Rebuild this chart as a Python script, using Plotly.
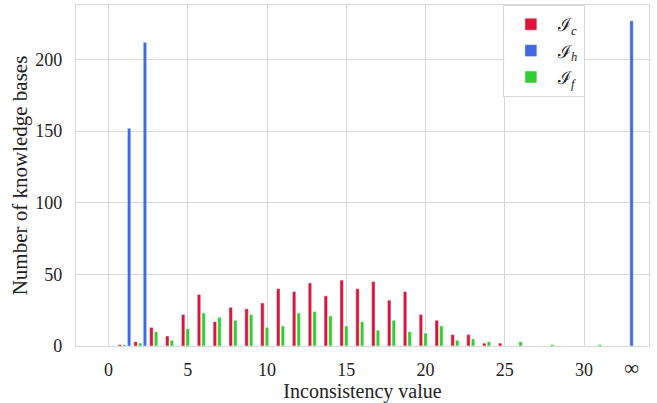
import plotly.graph_objects as go

# ---- data ----
c_values = list(range(1, 26))
c_counts = [1, 3, 13, 7, 22, 36, 17, 27, 26, 30, 40, 38, 44, 35, 46, 40, 45, 32, 38, 22, 18, 8, 8, 2, 2]

f_values = list(range(1, 32))
f_counts = [1, 2, 10, 4, 12, 23, 20, 18, 22, 13, 14, 23, 24, 21, 14, 17, 11, 18, 10, 9, 14, 4, 5, 3, 0, 3, 0, 1, 0, 0, 1]

h_values = [1, 2, "inf"]
h_counts = [152, 212, 227]

INF_POS = 33
x_ticks = [0, 5, 10, 15, 20, 25, 30]
y_ticks = [0, 50, 100, 150, 200]
inf_label = "∞"

series_names = ["ℐ<sub><i>c</i></sub>", "ℐ<sub><i>h</i></sub>", "ℐ<sub><i>f</i></sub>"]
colors = ["#DC143C", "#4169E1", "#32CD32"]

W = 0.22
FONT = "'Liberation Serif', 'Times New Roman', serif"

def pos(v):
    return INF_POS if v == "inf" else v

fig = go.Figure()
fig.add_trace(go.Bar(
    x=c_values, y=c_counts, name=series_names[0],
    marker=dict(color=colors[0], line=dict(color="white", width=0.5)),
    width=W, offset=-0.29 - W / 2,
))
fig.add_trace(go.Bar(
    x=[pos(v) for v in h_values], y=h_counts, name=series_names[1],
    marker=dict(color=colors[1], line=dict(color="white", width=0.5)),
    width=W, offset=[(0.3 if v != "inf" else 0.0) - W / 2 for v in h_values],
))
fig.add_trace(go.Bar(
    x=f_values, y=f_counts, name=series_names[2],
    marker=dict(color=colors[2], line=dict(color="white", width=0.5)),
    width=W, offset=-W / 2,
))
# invisible trace to carry the infinity axis
fig.add_trace(go.Scatter(x=[INF_POS], y=[0], xaxis="x2", mode="markers",
                         marker=dict(opacity=0), showlegend=False, hoverinfo="skip"))

grid = "#d9d9d9"
xr = [-2.05, 34.1]
fig.update_layout(
    width=657, height=403,
    margin=dict(l=76, r=8, t=5, b=57),
    paper_bgcolor="white", plot_bgcolor="white",
    barmode="overlay",
    font=dict(family=FONT, size=18, color="#222222"),
    xaxis=dict(
        range=xr, tickvals=x_ticks, showgrid=True, gridcolor=grid, gridwidth=1,
        showline=True, linecolor=grid, linewidth=1.2, mirror=True,
        zeroline=False, ticks="", ticklabelstandoff=7,
        title=dict(text="Inconsistency value", font=dict(size=20), standoff=2),
    ),
    xaxis2=dict(
        range=xr, overlaying="x", anchor="y", side="bottom",
        tickvals=[INF_POS], ticktext=[inf_label], showgrid=False,
        zeroline=False, showline=False, ticks="", ticklabelstandoff=7,
        tickfont=dict(size=21),
    ),
    yaxis=dict(
        range=[0, 238], tickvals=y_ticks, showgrid=True,
        gridcolor=grid, gridwidth=1, showline=True, linecolor=grid,
        linewidth=1.2, mirror=True, zeroline=False, ticks="", ticklabelstandoff=9,
        title=dict(text="Number of knowledge bases", font=dict(size=21), standoff=1),
    ),
    legend=dict(
        x=0.745, y=1.0, xanchor="left", yanchor="top",
        bgcolor="rgba(255,255,255,0.9)", bordercolor="#d9d9d9", borderwidth=1,
        font=dict(size=18), itemwidth=44, tracegroupgap=0,
    ),
    showlegend=True,
)

fig.write_html("out.html")
